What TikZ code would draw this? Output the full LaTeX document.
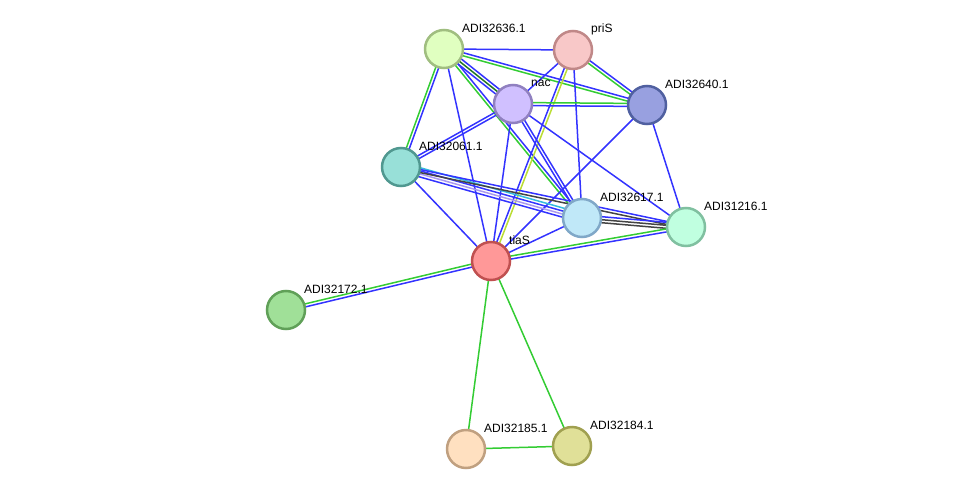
\documentclass[tikz,border=0pt]{standalone}
\usepackage{fontspec}
\setmainfont{Liberation Sans}
\usetikzlibrary{calc,backgrounds}

% one link, drawn as parallel coloured lines
\newcommand\edgeset[3]{%
  \foreach \o/\c in {#3}
    \draw[edge,\c] ($(#1)!\o pt!90:(#2)$) -- ($(#2)!\o pt!-90:(#1)$);}

\begin{document}
\begin{tikzpicture}[
       x = 1pt, y = -1pt,
 prot/.style = {circle, draw, line width=2.5pt, minimum size=38pt, inner sep=0pt},% proteins
  lbl/.style = {anchor=west, inner sep=0pt, font=\fontsize{12}{14}\selectfont},% names
 edge/.style = {line width=1.5pt},
]
\definecolor{eblue}{HTML}{3333FF}
\definecolor{egreen}{HTML}{33CC33}
\definecolor{edkgreen}{HTML}{227722}
\definecolor{eyellow}{HTML}{BBDD33}
\definecolor{egray}{HTML}{444444}
\definecolor{ecyan}{HTML}{33BBDD}
\definecolor{elav}{HTML}{AA99EE}
\useasboundingbox (0,0) rectangle (976,495);

% proteins
\node[prot, fill={rgb,255:red,224;green,255;blue,192}, draw={rgb,255:red,160;green,190;blue,128}] (a36) at (444,49) {};
\node[prot, fill={rgb,255:red,248;green,200;blue,200}, draw={rgb,255:red,192;green,136;blue,136}] (pris) at (573,50) {};
\node[prot, fill={rgb,255:red,208;green,192;blue,255}, draw={rgb,255:red,144;green,128;blue,192}] (nac) at (513,104) {};
\node[prot, fill={rgb,255:red,152;green,160;blue,224}, draw={rgb,255:red,80;green,96;blue,160}] (a40) at (647,105) {};
\node[prot, fill={rgb,255:red,152;green,224;blue,216}, draw={rgb,255:red,80;green,152;blue,144}] (a61) at (401,167) {};
\node[prot, fill={rgb,255:red,192;green,232;blue,248}, draw={rgb,255:red,128;green,168;blue,200}] (a17) at (582,218) {};
\node[prot, fill={rgb,255:red,192;green,255;blue,224}, draw={rgb,255:red,128;green,192;blue,160}] (a16) at (686,227) {};
\node[prot, fill={rgb,255:red,255;green,152;blue,152}, draw={rgb,255:red,192;green,80;blue,80}] (tias) at (491,261) {};
\node[prot, fill={rgb,255:red,160;green,224;blue,152}, draw={rgb,255:red,96;green,160;blue,88}] (a72) at (286,310) {};
\node[prot, fill={rgb,255:red,255;green,224;blue,192}, draw={rgb,255:red,192;green,160;blue,128}] (a85) at (466,449) {};
\node[prot, fill={rgb,255:red,224;green,224;blue,152}, draw={rgb,255:red,160;green,160;blue,80}] (a84) at (572,446) {};

% names
\foreach \p/\t in {a36/ADI32636.1, pris/priS, nac/nac, a40/ADI32640.1,
                   a61/ADI32061.1, a17/ADI32617.1, a16/ADI31216.1, tias/tiaS,
                   a72/ADI32172.1, a85/ADI32185.1, a84/ADI32184.1}
  \node[lbl] (\p-t) at ($(\p)+(18,-21)$) {\t};

% links
\begin{scope}[on background layer]
\edgeset{a36}{pris}{0/eblue}
\edgeset{a36}{a40}{-1.5/egreen, 1.5/eblue}
\edgeset{a36}{nac}{-3/eblue, 0/edkgreen, 3/eblue}
\edgeset{a36}{a61}{-1.5/egreen, 1.5/eblue}
\edgeset{a36}{tias}{0/eblue}
\edgeset{a36}{a17}{-1.5/egreen, 1.5/eblue}
\edgeset{pris}{nac}{0/eblue}
\edgeset{pris}{a40}{-1.5/egreen, 1.5/eblue}
\edgeset{pris}{tias}{-1.5/eblue, 1.5/eyellow}
\edgeset{pris}{a17}{0/eblue}
\edgeset{nac}{a40}{-1.5/eblue, 1.5/egreen}
\edgeset{nac}{a61}{-1.5/eblue, 1.5/eblue}
\edgeset{nac}{tias}{0/eblue}
\edgeset{nac}{a17}{-1.5/eblue, 1.5/eblue}
\edgeset{nac}{a16}{0/eblue}
\edgeset{a40}{tias}{0/eblue}
\edgeset{a40}{a16}{0/eblue}
\edgeset{a61}{tias}{0/eblue}
\edgeset{a61}{a17}{-4.5/eblue, -1.5/elav, 1.5/eblue, 4.5/ecyan}
\edgeset{a61}{a16}{-1.5/egray, 1.5/eblue}
\edgeset{a17}{a16}{-3/egray, 0/egray, 3/eblue}
\edgeset{a17}{tias}{0/eblue}
\edgeset{tias}{a16}{-1.5/eblue, 1.5/egreen}
\edgeset{tias}{a72}{-1.5/egreen, 1.5/eblue}
\edgeset{tias}{a85}{0/egreen}
\edgeset{tias}{a84}{0/egreen}
\edgeset{a85}{a84}{0/egreen}
\end{scope}
\end{tikzpicture}
\end{document}
